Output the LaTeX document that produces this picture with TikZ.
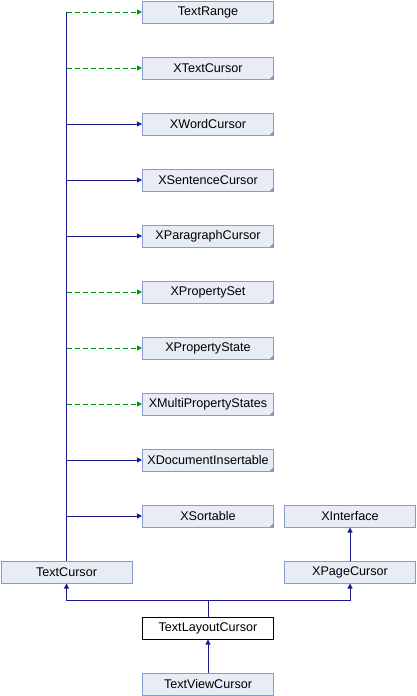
\documentclass[tikz,border=0pt]{standalone}
\usepackage{fontspec}
\setmainfont{Liberation Sans}
\usetikzlibrary{arrows.meta,positioning}

\definecolor{boxfill}{RGB}{232,236,245}
\definecolor{boxline}{RGB}{133,155,204}
\definecolor{inherit}{RGB}{25,25,140}
\definecolor{usage}{RGB}{0,150,0}

\begin{document}
\begin{tikzpicture}[
        x=1pt,
        y=-1pt,
        cls/.style={draw=boxline, fill=boxfill, line width=1pt, minimum width=131pt,
            minimum height=22pt, inner sep=0pt, font=\fontsize{12.6}{14}\selectfont},
        current/.style={cls, draw=black, fill=white},
        solidarrow/.style={draw=inherit, line width=1pt, -{Triangle[length=5pt,width=5pt]}},
        dashedarrow/.style={draw=usage, line width=1pt, dash pattern=on 5pt off 3pt,
            -{Triangle[length=5pt,width=5pt]}},
        plainwire/.style={draw=inherit, line width=1pt}
    ]
        \useasboundingbox (0,0) rectangle (416,696);

        % bottom part of the graph
        \node[cls] (tc) at (66.5,572) {TextCursor};
        \node[cls] (xif) at (350,516) {XInterface};
        \node[cls] (xpc) at (350,572) {XPageCursor};
        \node[current] (tlc) at (208,628) {TextLayoutCursor};
        \node[cls] (tvc) at (208,684) {TextViewCursor};

        % interfaces supported by TextCursor
        \foreach \y/\nm/\lab/\kind in {
            12/range/TextRange/dashedarrow,
            68/xtc/XTextCursor/dashedarrow,
            124/xwc/XWordCursor/solidarrow,
            180/xsc/XSentenceCursor/solidarrow,
            236/xpac/XParagraphCursor/solidarrow,
            292/xps/XPropertySet/dashedarrow,
            348/xpst/XPropertyState/dashedarrow,
            404/xmps/XMultiPropertyStates/dashedarrow,
            460/xdi/XDocumentInsertable/solidarrow,
            516/xso/XSortable/solidarrow%
        }{
            \node[cls] (\nm) at (208,\y) {\lab};
            \fill[boxline] (\nm.south east) -- ++(-5,0) -- ++(5,-5) -- cycle;
            \draw[\kind] (tc.north |- \nm.west) -- (\nm.west);
        }

        \draw[plainwire] (tc.north) -- (tc.north |- range.west);

        \draw[solidarrow] (xpc.north) -- (xif.south);
        \draw[solidarrow] (tvc.north) -- (tlc.south);

        \coordinate (split) at (208,600);
        \draw[plainwire] (tlc.north) -- (split);
        \draw[solidarrow] (split) -| (tc.south);
        \draw[solidarrow] (split) -| (xpc.south);
    \end{tikzpicture}
\end{document}
